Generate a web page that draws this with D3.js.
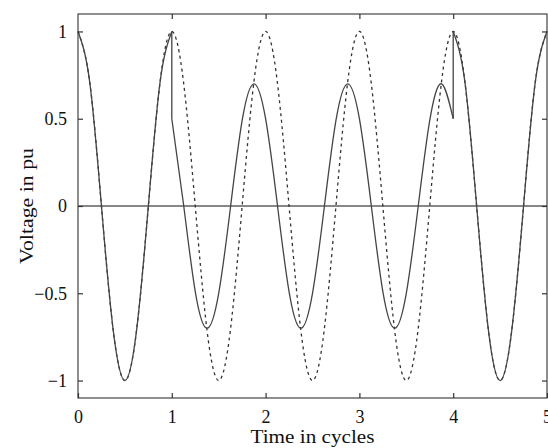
<!DOCTYPE html>
<html>
<head>
<meta charset="utf-8">
<script src="https://cdn.jsdelivr.net/npm/d3@7"></script>
<style>
  body { margin: 0; background: #fff; }
  svg text { font-family: "Liberation Serif", "Times New Roman", Times, serif !important; }
</style>
</head>
<body>
<svg id="chart" width="548" height="448"></svg>
<script>
// time grid, 1/8 cycle steps
var timeCycles = [0, 0.125, 0.25, 0.375, 0.5, 0.625, 0.75, 0.875,
  1, 1.125, 1.25, 1.375, 1.5, 1.625, 1.75, 1.875,
  2, 2.125, 2.25, 2.375, 2.5, 2.625, 2.75, 2.875,
  3, 3.125, 3.25, 3.375, 3.5, 3.625, 3.75, 3.875,
  4, 4.125, 4.25, 4.375, 4.5, 4.625, 4.75, 4.875, 5];

// dashed curve (undisturbed voltage)
var refVoltage = [1, 0.71, 0, -0.71, -1, -0.71, 0, 0.71,
  1, 0.71, 0, -0.71, -1, -0.71, 0, 0.71,
  1, 0.71, 0, -0.71, -1, -0.71, 0, 0.71,
  1, 0.71, 0, -0.71, -1, -0.71, 0, 0.71,
  1, 0.71, 0, -0.71, -1, -0.71, 0, 0.71, 1];

// solid curve, split at the jumps (t = 1 and t = 4)
var preVoltage = [1, 0.71, 0, -0.71, -1, -0.71, 0, 0.71, 1];
var sagVoltage = [0.5, 0.01, -0.49, -0.7, -0.5, -0.01, 0.49, 0.7,
  0.5, 0.01, -0.49, -0.7, -0.5, -0.01, 0.49, 0.7,
  0.5, 0.01, -0.49, -0.7, -0.5, -0.01, 0.49, 0.7, 0.5];
var postVoltage = [1, 0.71, 0, -0.71, -1, -0.71, 0, 0.71, 1];

var xTicks = [0, 1, 2, 3, 4, 5];
var xTickLabels = ["0", "1", "2", "3", "4", "5"];
var yTicks = [-1, -0.5, 0, 0.5, 1];
var yTickLabels = ["\u22121", "\u22120.5", "0", "0.5", "1"];

var W = 548, H = 448;
var m = {left: 78, right: 1, top: 14, bottom: 50};

var svg = d3.select("#chart");

var x = d3.scaleLinear().domain([0, 5]).range([m.left, W - m.right]);
var y = d3.scaleLinear().domain([-1.1, 1.1]).range([H - m.bottom, m.top]);

var pts = (ts, vs) => ts.map((t, i) => [t, vs[i]]);
var prePts = pts(timeCycles.slice(0, 9), preVoltage);
var sagPts = pts(timeCycles.slice(8, 33), sagVoltage);
var postPts = pts(timeCycles.slice(32), postVoltage);
var refPts = pts(timeCycles, refVoltage);

var line = d3.line().x(d => x(d[0])).y(d => y(d[1])).curve(d3.curveNatural);

// zero line
svg.append("line")
  .attr("x1", x(0)).attr("x2", x(5))
  .attr("y1", y(0)).attr("y2", y(0))
  .attr("stroke", "#111").attr("stroke-width", 1.2);

// dashed
svg.append("path").datum(refPts)
  .attr("d", line)
  .attr("fill", "none").attr("stroke", "#333")
  .attr("stroke-width", 1.3).attr("stroke-dasharray", "3,3.5");

// solid pieces
[prePts, sagPts, postPts].forEach(p => {
  svg.append("path").datum(p)
    .attr("d", line)
    .attr("fill", "none").attr("stroke", "#444")
    .attr("stroke-width", 1.3);
});

// vertical jumps
[[prePts[prePts.length - 1], sagPts[0]], [sagPts[sagPts.length - 1], postPts[0]]].forEach(j => {
  svg.append("line")
    .attr("x1", x(j[0][0])).attr("x2", x(j[1][0]))
    .attr("y1", y(j[0][1])).attr("y2", y(j[1][1]))
    .attr("stroke", "#444").attr("stroke-width", 1.3);
});

// frame
svg.append("rect")
  .attr("x", x(0)).attr("y", y(1.1))
  .attr("width", x(5) - x(0)).attr("height", y(-1.1) - y(1.1))
  .attr("fill", "none").attr("stroke", "#444").attr("stroke-width", 1.2);

// axes with inward ticks
var fmtX = d => xTickLabels[xTicks.indexOf(d)];
var fmtY = d => yTickLabels[yTicks.indexOf(d)];

var gx = svg.append("g").attr("transform", "translate(0," + y(-1.1) + ")")
  .call(d3.axisBottom(x).tickValues(xTicks).tickFormat(fmtX).tickSizeInner(-5).tickSizeOuter(0).tickPadding(12));
var gxTop = svg.append("g").attr("transform", "translate(0," + y(1.1) + ")")
  .call(d3.axisTop(x).tickValues(xTicks.slice(1, 5)).tickSizeInner(-5).tickSizeOuter(0).tickFormat(""));
var gy = svg.append("g").attr("transform", "translate(" + x(0) + ",0)")
  .call(d3.axisLeft(y).tickValues(yTicks).tickFormat(fmtY).tickSizeInner(-5).tickSizeOuter(0).tickPadding(11));
var gyR = svg.append("g").attr("transform", "translate(" + x(5) + ",0)")
  .call(d3.axisRight(y).tickValues(yTicks).tickSizeInner(-5).tickSizeOuter(0).tickFormat(""));

[gx, gxTop, gy, gyR].forEach(g => {
  g.select(".domain").remove();
  g.selectAll(".tick line").attr("stroke", "#333").attr("stroke-width", 1.2);
  g.selectAll("text").attr("font-size", 18).attr("fill", "#111");
});

// axis titles
svg.append("text")
  .attr("x", (x(0) + x(5)) / 2).attr("y", 443)
  .attr("text-anchor", "middle").attr("font-size", 19).attr("fill", "#111")
  .attr("textLength", 124).attr("lengthAdjust", "spacingAndGlyphs")
  .text("Time in cycles");

svg.append("text")
  .attr("transform", "translate(33," + y(0) + ") rotate(-90)")
  .attr("text-anchor", "middle").attr("font-size", 18).attr("fill", "#111")
  .attr("textLength", 116).attr("lengthAdjust", "spacingAndGlyphs")
  .text("Voltage in pu");
</script>
</body>
</html>
